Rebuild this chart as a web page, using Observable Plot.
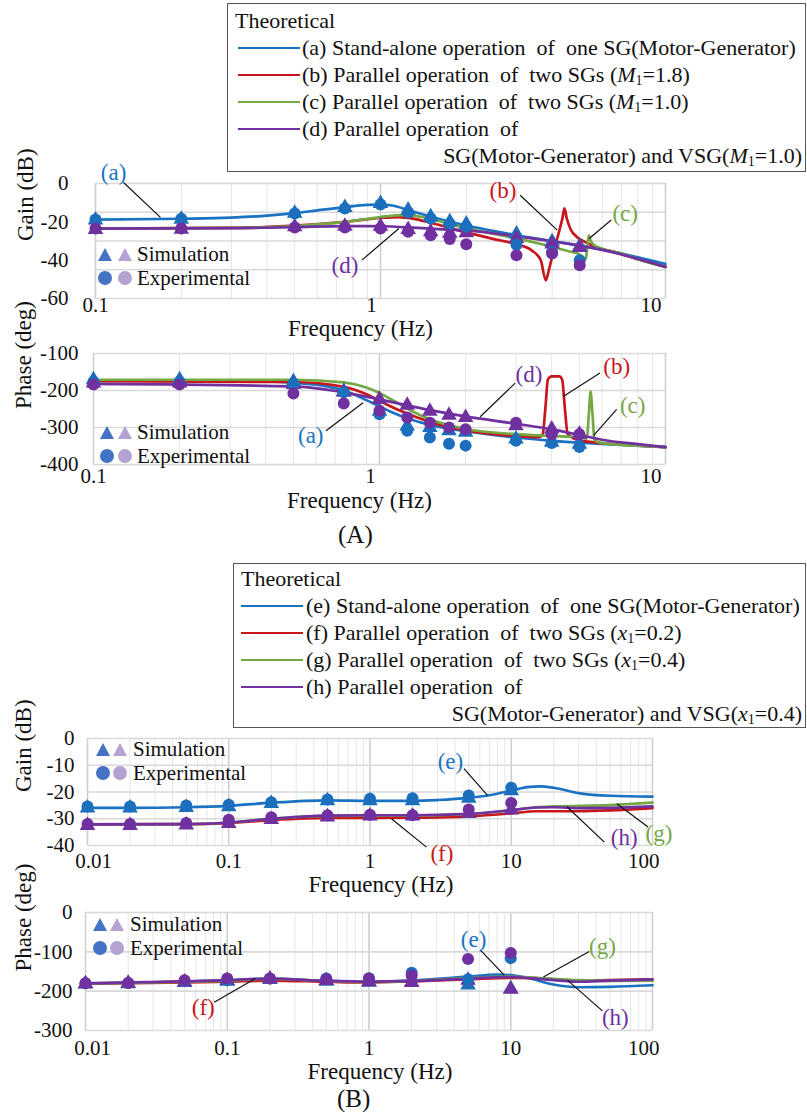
<!DOCTYPE html>
<html><head><meta charset="utf-8">
<script src="https://cdn.jsdelivr.net/npm/d3@7"></script>
<script src="https://cdn.jsdelivr.net/npm/@observablehq/plot@0.6"></script>
<style>
body{margin:0;background:#fff;font-family:'Liberation Serif','Times New Roman',serif;}
#root{position:relative;width:807px;height:1112px;overflow:hidden;background:#fff;}
.legbox{position:absolute;border:1.5px solid #555;background:#fff;box-sizing:border-box;}
.row{position:absolute;white-space:pre;font-size:22px;line-height:22px;color:#111;}
.row sub{font-size:14px;vertical-align:-3px;line-height:0;}
.sw{position:absolute;height:0;border-top:2.6px solid;}
.mini{position:absolute;font-size:21px;line-height:20px;color:#111;white-space:pre;}
.big{position:absolute;font-size:25px;line-height:25px;color:#111;}
</style></head>
<body><div id="root"></div>
<script>
// ---------------- DATA ----------------
const COLORS = {blue:"#1a73c2", red:"#c8161d", green:"#74a845", purple:"#7030a0"};
const MARK = {blue:"#1c6fbd", purple:"#7030a0"};

// (A) Gain
const freqA = [0.1,0.2,0.5,0.75,1.0,1.25,1.5,1.75,2.0,3.0,4.0,5.0];
const gainA_sim_a = [-19.1,-18.7,-15.5,-12.5,-10.4,-13.9,-17.4,-20.0,-21.2,-26.4,-30.4,-32.7];
const gainA_exp_a = [-18.8,-18.4,-15.7,-13.0,-11.0,-15.1,-18.3,-21.0,-22.5,-32.0,-35.7,-40.0];
const gainA_sim_d = [-24.0,-23.8,-22.6,-22.3,-22.3,-24.0,-25.2,-26.0,-25.7,-28.7,-31.6,-33.4];
const gainA_exp_d = [-23.5,-23.5,-23.0,-23.0,-23.5,-25.2,-27.0,-29.0,-31.7,-37.4,-36.5,-42.6];
const gainA_a = [[0.1,-18.8],[0.2,-18.4],[0.3,-17.8],[0.4,-16.8],[0.5,-15.5],[0.6,-14.0],[0.75,-12.3],[0.9,-11.2],[1.0,-11.0],[1.1,-11.5],[1.25,-13.8],[1.5,-17.3],[1.75,-20.0],[2.0,-21.9],[2.5,-24.8],[3.0,-27.0],[4.0,-30.0],[5.0,-32.5],[6.0,-34.5],[8.0,-38.5],[10,-42]];
const gainA_b = [[0.1,-23.5],[0.3,-23.2],[0.5,-22.0],[0.75,-20.0],[1.0,-18.0],[1.15,-17.5],[1.3,-18.3],[1.5,-20.5],[2.0,-25.5],[2.5,-29.0],[3.0,-31.7],[3.4,-35.0],[3.65,-40.0],[3.8,-50.5],[3.9,-45.0],[4.05,-35.0],[4.2,-27.0],[4.35,-18.0],[4.42,-13.0],[4.5,-18.0],[4.65,-24.0],[4.9,-28.0],[5.3,-31.0],[5.8,-33.5],[6.5,-35.5],[8.0,-39.5],[10,-43.5]];
const gainA_c = [[0.1,-23.5],[0.3,-23.2],[0.5,-22.2],[0.75,-20.0],[1.0,-17.5],[1.2,-16.5],[1.4,-17.5],[1.6,-19.5],[2.0,-23.3],[2.5,-26.3],[3.0,-28.6],[4.0,-33.0],[4.6,-35.5],[5.0,-37.0],[5.25,-39.5],[5.3,-35.0],[5.38,-27.0],[5.45,-29.5],[5.6,-32.0],[6.0,-34.0],[7.0,-36.5],[8.0,-39.5],[10,-43.5]];
const gainA_d = [[0.1,-23.5],[0.3,-23.3],[0.5,-22.8],[0.75,-22.2],[1.0,-22.3],[1.3,-23.0],[1.6,-23.8],[2.0,-24.5],[3.0,-27.5],[4.0,-30.2],[5.0,-32.4],[6.0,-34.6],[8.0,-39.3],[10,-43.5]];

// (A) Phase
const phaseA_sim_a = [-171,-171,-176,-202,-256,-296,-300,-309,-313,-331,-340,-345];
const phaseA_exp_a = [-176,-176,-182,-205,-264,-309,-327,-344,-349,-336,-342,-353];
const phaseA_sim_d = [-180,-180,-184,-205,-224,-240,-256,-267,-273,-295,-304,-318];
const phaseA_exp_d = [-184,-184,-208,-235,-255,-273,-287,-300,-305,-287,-318,-318];
const phaseA_a = [[0.1,-173],[0.3,-174],[0.5,-179],[0.65,-188],[0.75,-200],[0.9,-226],[1.0,-243],[1.1,-258],[1.25,-275],[1.5,-293],[2.0,-310],[3.0,-327],[4.0,-336],[5.0,-341],[7.0,-347],[10,-353]];
const phaseA_b = [[0.1,-175],[0.5,-177],[0.75,-190],[0.9,-210],[1.0,-228],[1.2,-257],[1.5,-285],[2.0,-308],[3.0,-323],[3.6,-326],[3.72,-318],[3.8,-250],[3.88,-170],[4.0,-162],[4.25,-162],[4.35,-170],[4.45,-250],[4.55,-318],[5.0,-335],[7.0,-346],[10,-353]];
const phaseA_c = [[0.1,-171],[0.5,-171],[0.75,-178],[0.9,-192],[1.0,-207],[1.1,-224],[1.3,-256],[1.5,-278],[2.0,-304],[3.0,-318],[4.0,-323],[5.0,-327],[5.3,-330],[5.4,-260],[5.47,-203],[5.55,-260],[5.65,-335],[6.0,-342],[10,-352]];
const phaseA_d = [[0.1,-182],[0.5,-189],[0.75,-205],[1.0,-224],[1.25,-240],[1.5,-253],[2.0,-270],[3.0,-290],[4.0,-305],[5.0,-320],[6.0,-333],[8.0,-345],[10,-353]];

// (B) Gain
const freqB = [0.01,0.02,0.05,0.1,0.2,0.5,1,2,5,10];
const gainB_sim_e = [-26.0,-26.0,-25.8,-25.5,-24.3,-23.3,-23.3,-23.3,-22.3,-19.5];
const gainB_exp_e = [-25.4,-25.4,-25.0,-24.8,-23.8,-22.8,-22.5,-22.3,-21.3,-18.4];
const gainB_sim_h = [-32.5,-32.5,-32.3,-31.8,-30.3,-29.3,-29.0,-29.0,-28.0,-26.7];
const gainB_exp_h = [-32.0,-32.0,-31.6,-30.4,-29.4,-28.7,-28.5,-28.7,-26.5,-24.1];
const gainB_e = [[0.01,-25.9],[0.02,-25.9],[0.05,-25.7],[0.1,-25.2],[0.2,-24.0],[0.5,-23.1],[1,-23.3],[2,-23.3],[3,-23.0],[5,-22.2],[7,-21.2],[10,-19.5],[13,-18.2],[16,-17.9],[20,-18.4],[30,-20.4],[50,-21.4],[100,-21.7]];
const gainB_f = [[0.01,-32.1],[0.05,-32.0],[0.1,-31.6],[0.2,-30.5],[0.5,-29.7],[1,-29.7],[2,-29.6],[5,-29.1],[10,-28.0],[15,-27.2],[30,-27.2],[50,-26.9],[100,-26.0]];
const gainB_g = [[0.01,-32.1],[0.05,-32.0],[0.1,-31.4],[0.2,-30.0],[0.5,-28.9],[1,-28.8],[2,-28.8],[5,-28.3],[10,-26.8],[15,-25.7],[20,-25.4],[50,-24.9],[100,-24.0]];
const gainB_h = [[0.01,-32.1],[0.05,-32.0],[0.1,-31.4],[0.2,-30.0],[0.5,-28.8],[1,-28.7],[2,-28.7],[5,-28.2],[10,-26.8],[15,-25.8],[20,-25.7],[30,-26.0],[50,-25.9],[100,-25.4]];

// (B) Phase
const phaseB_sim_e = [-182,-181,-178,-175,-170,-175,-177,-178,-184,-194];
const phaseB_exp_e = [-180,-179,-175,-172,-168,-168,-167,-153,-170,-116];
const phaseB_sim_h = [-181,-180,-177,-173,-169,-173,-176,-178,-172,-195];
const phaseB_exp_h = [-180,-179,-172,-168,-168,-170,-168,-160,-118,-103];
const phaseB_e = [[0.01,-180],[0.05,-176],[0.1,-172],[0.2,-169],[0.5,-174],[1,-176],[2,-173],[5,-163],[8,-158],[10,-159],[13,-166],[20,-183],[30,-190],[50,-189],[100,-185]];
const phaseB_f = [[0.01,-181],[0.1,-176],[0.2,-173],[0.5,-176],[1,-178],[2,-175],[5,-170],[10,-166],[15,-167],[30,-173],[50,-172],[100,-170]];
const phaseB_g = [[0.01,-180],[0.1,-173],[0.2,-169],[0.5,-174],[1,-177],[2,-174],[5,-167],[10,-163],[15,-166],[30,-172],[50,-174],[100,-173]];
const phaseB_h = [[0.01,-180],[0.1,-172],[0.2,-168],[0.5,-174],[1,-176],[2,-174],[5,-168],[10,-164],[15,-168],[30,-176],[50,-173],[100,-170]];

// tick labels
const ticksGainA = [0,-20,-40,-60];
const gridGainA = [0,-15,-30,-45,-60];
const ticksPhaseA = [-100,-200,-300,-400];
const ticksGainB = [0,-10,-20,-30,-40];
const ticksPhaseB = [0,-100,-200,-300];
const xTicksA = [0.1,1,10];
const xTicksB = [0.01,0.1,1,10,100];

// annotations (label, color, text pos, leader line)
const annGainA = [
  {label:"(a)",color:"blue",tx:0.1157,ty:5.7,x1:0.1254,y1:0.5,x2:0.169,y2:-17.7},
  {label:"(b)",color:"red",tx:2.69,ty:-3.5,x1:3.09,y1:-6.1,x2:4.17,y2:-24.3},
  {label:"(c)",color:"green",tx:7.22,ty:-15.7,x1:6.45,y1:-19,x2:5.4,y2:-28.7},
  {label:"(d)",color:"purple",tx:0.75,ty:-42.6,x1:0.86,y1:-40,x2:1.16,y2:-23.5}
];
const annPhaseA = [
  {label:"(a)",color:"blue",tx:0.575,ty:-322,x1:0.65,y1:-309,x2:0.876,y2:-233},
  {label:"(d)",color:"purple",tx:3.33,ty:-158,x1:2.98,y1:-180,x2:2.25,y2:-271},
  {label:"(b)",color:"red",tx:6.75,ty:-136,x1:5.9,y1:-153,x2:4.39,y2:-216},
  {label:"(c)",color:"green",tx:7.68,ty:-242,x1:6.75,y1:-251,x2:5.6,y2:-322}
];
const annGainB = [
  {label:"(e)",color:"blue",tx:3.71,ty:-8.75,x1:4.63,y1:-11.25,x2:6.79,y2:-21.25},
  {label:"(f)",color:"red",tx:3.23,ty:-43.1,x1:2.51,y1:-40.6,x2:1.42,y2:-30},
  {label:"(h)",color:"purple",tx:63,ty:-36.9,x1:45.6,y1:-38.75,x2:24.9,y2:-25.6},
  {label:"(g)",color:"green",tx:111,ty:-35.6,x1:93,y1:-33.1,x2:56,y2:-24.4}
];
const annPhaseB = [
  {label:"(e)",color:"blue",tx:5.47,ty:-69,x1:6.09,y1:-95,x2:8.99,y2:-159},
  {label:"(g)",color:"green",tx:44.3,ty:-86,x1:35.8,y1:-99,x2:17.0,y2:-164},
  {label:"(h)",color:"purple",tx:54.7,ty:-267,x1:44.3,y1:-250,x2:25.1,y2:-172},
  {label:"(f)",color:"red",tx:0.0677,ty:-241,x1:0.0809,y1:-228,x2:0.158,y2:-168}
];

const legendA = [
  {color:"blue", html:"(a) Stand-alone operation  of  one SG(Motor-Generator)"},
  {color:"red", html:"(b) Parallel operation  of  two SGs (<i>M</i><sub>1</sub>=1.8)"},
  {color:"green", html:"(c) Parallel operation  of  two SGs (<i>M</i><sub>1</sub>=1.0)"},
  {color:"purple", html:"(d) Parallel operation  of"}
];
const legendA2 = "SG(Motor-Generator) and VSG(<i>M</i><sub>1</sub>=1.0)";
const legendB = [
  {color:"blue", html:"(e) Stand-alone operation  of  one SG(Motor-Generator)"},
  {color:"red", html:"(f) Parallel operation  of  two SGs (<i>x</i><sub>1</sub>=0.2)"},
  {color:"green", html:"(g) Parallel operation  of  two SGs (<i>x</i><sub>1</sub>=0.4)"},
  {color:"purple", html:"(h) Parallel operation  of"}
];
const legendB2 = "SG(Motor-Generator) and VSG(<i>x</i><sub>1</sub>=0.4)";

// ---------------- DRAWING ----------------
const FONT = "'Liberation Serif', 'Times New Roman', serif";
const root = document.getElementById("root");

function pts(arr){ return arr.map(([f,v]) => ({f, v})); }
function zipf(fr, vals){ return fr.map((f,i) => ({f, v: vals[i]})); }
function gridVals(lo, hi){
  const minor = [], major = [];
  for (let e = Math.round(Math.log10(lo)); e < Math.round(Math.log10(hi)); e++) {
    const b = Math.pow(10, e);
    major.push(b);
    for (let k = 2; k <= 9; k++) minor.push(+(k*b).toPrecision(3));
  }
  major.push(hi);
  return {minor, major};
}

function panel(o){
  const g = gridVals(o.xdom[0], o.xdom[1]);
  const marks = [
    Plot.gridX(g.minor, {stroke:"#e6e6e6", strokeOpacity:1, strokeWidth:1}),
    Plot.gridX(g.major, {stroke:"#cfcfcf", strokeOpacity:1, strokeWidth:1.6}),
    Plot.gridY(o.gridY, {stroke:"#d9d9d9", strokeOpacity:1, strokeWidth:1.6}),
  ];
  for (const c of o.lines) marks.push(Plot.line(pts(c.data), {x:"f", y:"v", stroke:COLORS[c.color], strokeWidth:2.7, curve:"monotone-x"}));
  for (const m of o.tri) marks.push(Plot.dot(zipf(o.freq, m.vals), {x:"f", y:"v", symbol:"triangle", r:5.8, fill:MARK[m.color]}));
  for (const m of o.circ) marks.push(Plot.dot(zipf(o.freq, m.vals), {x:"f", y:"v", symbol:"circle", r:6, fill:MARK[m.color]}));
  marks.push(Plot.link(o.ann, {x1:"x1", y1:"y1", x2:"x2", y2:"y2", stroke:"#111", strokeWidth:1.2}));
  for (const a of o.ann) marks.push(Plot.text([a], {x:"tx", y:"ty", text:"label", fill:COLORS[a.color], fontSize:23}));
  // tick labels
  marks.push(Plot.text(o.yTicks, {y:d=>d, text:d=>String(d), frameAnchor:"left", dx:o.ydx, textAnchor:"end", fontSize:21, fill:"#111"}));
  const x0 = o.xTicks.slice(0,1), xm = o.xTicks.slice(1,-1), xl = o.xTicks.slice(-1);
  marks.push(Plot.text(x0, {x:d=>d, text:d=>String(d), frameAnchor:"bottom", dy:o.xdy, dx:o.firstDx, lineAnchor:"middle", fontSize:21, fill:"#111"}));
  marks.push(Plot.text(xm, {x:d=>d, text:d=>String(d), frameAnchor:"bottom", dy:o.xdy, dx:o.midDx, lineAnchor:"middle", fontSize:21, fill:"#111"}));
  marks.push(Plot.text(xl, {x:d=>d, text:d=>String(d), frameAnchor:"bottom", dy:o.xdy, dx:o.lastDx, textAnchor:"end", lineAnchor:"middle", fontSize:21, fill:"#111"}));
  // axis titles
  marks.push(Plot.text([o.ylabel], {frameAnchor:"left", dx:o.ytdx, rotate:-90, fontSize:23, fill:"#111"}));
  marks.push(Plot.text(["Frequency (Hz)"], {frameAnchor:"bottom", dy:o.xtdy, dx:o.xtdx, lineAnchor:"middle", fontSize:23, fill:"#111"}));
  const svg = Plot.plot({
    width:807, height:o.height,
    marginTop:o.mt, marginBottom:o.mb, marginLeft:o.ml, marginRight:o.mr,
    x:{type:"log", domain:o.xdom, axis:null},
    y:{domain:o.ydom, axis:null},
    style:{fontFamily:FONT, background:"transparent", overflow:"visible"},
    marks
  });
  svg.style.position = "absolute";
  svg.style.left = "0px";
  svg.style.top = o.top + "px";
  root.appendChild(svg);
}

panel({top:150, height:192, mt:33, mb:44, ml:95, mr:142, xdom:[0.1,10], ydom:[-60,0], gridY:gridGainA,
  yTicks:ticksGainA, xTicks:xTicksA, ydx:-27, xdy:7, firstDx:0, midDx:-9, lastDx:-4, ylabel:"Gain (dB)", ytdx:-70, xtdy:30, xtdx:-20,
  freq:freqA,
  lines:[{data:gainA_a,color:"blue"},{data:gainA_b,color:"red"},{data:gainA_c,color:"green"},{data:gainA_d,color:"purple"}],
  tri:[{vals:gainA_sim_a,color:"blue"},{vals:gainA_sim_d,color:"purple"}],
  circ:[{vals:gainA_exp_a,color:"blue"},{vals:gainA_exp_d,color:"purple"}],
  ann:annGainA});

panel({top:335, height:180, mt:18, mb:51, ml:93, mr:142, xdom:[0.1,10], ydom:[-400,-100], gridY:ticksPhaseA,
  yTicks:ticksPhaseA, xTicks:xTicksA, ydx:-15, xdy:12, firstDx:0, midDx:-9, lastDx:-4, ylabel:"Phase (deg)", ytdx:-70, xtdy:36, xtdx:-20,
  freq:freqA,
  lines:[{data:phaseA_a,color:"blue"},{data:phaseA_b,color:"red"},{data:phaseA_c,color:"green"},{data:phaseA_d,color:"purple"}],
  tri:[{vals:phaseA_sim_a,color:"blue"},{vals:phaseA_sim_d,color:"purple"}],
  circ:[{vals:phaseA_exp_a,color:"blue"},{vals:phaseA_exp_d,color:"purple"}],
  ann:annPhaseA});

panel({top:728, height:167, mt:10, mb:50, ml:87, mr:155, xdom:[0.01,100], ydom:[-40,0], gridY:ticksGainB,
  yTicks:ticksGainB, xTicks:xTicksB, ydx:-13, xdy:16, firstDx:6, midDx:0, lastDx:7, ylabel:"Gain (dB)", ytdx:-64, xtdy:39, xtdx:11,
  freq:freqB,
  lines:[{data:gainB_e,color:"blue"},{data:gainB_f,color:"red"},{data:gainB_g,color:"green"},{data:gainB_h,color:"purple"}],
  tri:[{vals:gainB_sim_e,color:"blue"},{vals:gainB_sim_h,color:"purple"}],
  circ:[{vals:gainB_exp_e,color:"blue"},{vals:gainB_exp_h,color:"purple"}],
  ann:annGainB});

panel({top:895, height:190, mt:17, mb:55, ml:85, mr:155, xdom:[0.01,100], ydom:[-300,0], gridY:ticksPhaseB,
  yTicks:ticksPhaseB, xTicks:xTicksB, ydx:-13, xdy:18, firstDx:7, midDx:0, lastDx:7, ylabel:"Phase (deg)", ytdx:-62, xtdy:41, xtdx:11,
  freq:freqB,
  lines:[{data:phaseB_e,color:"blue"},{data:phaseB_f,color:"red"},{data:phaseB_g,color:"green"},{data:phaseB_h,color:"purple"}],
  tri:[{vals:phaseB_sim_e,color:"blue"},{vals:phaseB_sim_h,color:"purple"}],
  circ:[{vals:phaseB_exp_e,color:"blue"},{vals:phaseB_exp_h,color:"purple"}],
  ann:annPhaseB});

// legend boxes
function legendBox(left, top, width, height, rows, second, rowTop, swL, swR, txtL){
  const box = document.createElement("div");
  box.className = "legbox";
  Object.assign(box.style, {left:left+"px", top:top+"px", width:width+"px", height:height+"px"});
  const mk = (html, y, x, right) => {
    const d = document.createElement("div");
    d.className = "row"; d.innerHTML = html;
    d.style.top = (y - 11 - top) + "px";
    if (right != null) d.style.right = right + "px"; else d.style.left = (x - left) + "px";
    box.appendChild(d);
  };
  mk("Theoretical", rowTop, left + 7);
  rows.forEach((r, i) => {
    const y = rowTop + 27*(i+1);
    const s = document.createElement("div");
    s.className = "sw";
    Object.assign(s.style, {left:(swL-left)+"px", width:(swR-swL)+"px", top:(y-1-top)+"px", borderColor:COLORS[r.color]});
    box.appendChild(s);
    mk(r.html, y, txtL);
  });
  mk(second, rowTop + 27*5, 0, 3);
  root.appendChild(box);
}
legendBox(227, 3, 579, 169, legendA, legendA2, 20, 237, 299, 301);
legendBox(233, 563, 573, 165, legendB, legendB2, 578, 240, 302, 305);

// simulation / experimental mini legends
function mini(x1, x2, tx, y1, y2){
  const make = (y, shape, text) => {
    const w = document.createElement("div");
    w.className = "mini";
    w.style.left = "0px"; w.style.top = (y-10)+"px"; w.style.width = "300px"; w.style.height="20px";
    const cols = ["#4472c4", "#b4a2d2"];
    let svg = `<svg width="300" height="20" style="position:absolute;left:0;top:0;overflow:visible">`;
    [x1, x2].forEach((x, i) => {
      if (shape === "tri") svg += `<polygon points="${x-7},${17} ${x+7},${17} ${x},${4}" fill="${cols[i]}"/>`;
      else svg += `<circle cx="${x}" cy="10" r="7" fill="${cols[i]}"/>`;
    });
    svg += `</svg>`;
    w.innerHTML = svg + `<span style="position:absolute;left:${tx}px;top:0">${text}</span>`;
    root.appendChild(w);
  };
  make(y1, "tri", "Simulation");
  make(y2, "circ", "Experimental");
}
mini(105, 125, 137, 254, 278);
mini(107, 125, 137, 432, 456);
mini(103, 120, 133, 749, 773);
mini(100, 117, 130, 924, 948);

const la = document.createElement("div"); la.className="big"; la.textContent="(A)";
Object.assign(la.style, {left:"338px", top:"522px"}); root.appendChild(la);
const lb = document.createElement("div"); lb.className="big"; lb.textContent="(B)";
Object.assign(lb.style, {left:"337px", top:"1086px"}); root.appendChild(lb);
</script>
</body></html>
